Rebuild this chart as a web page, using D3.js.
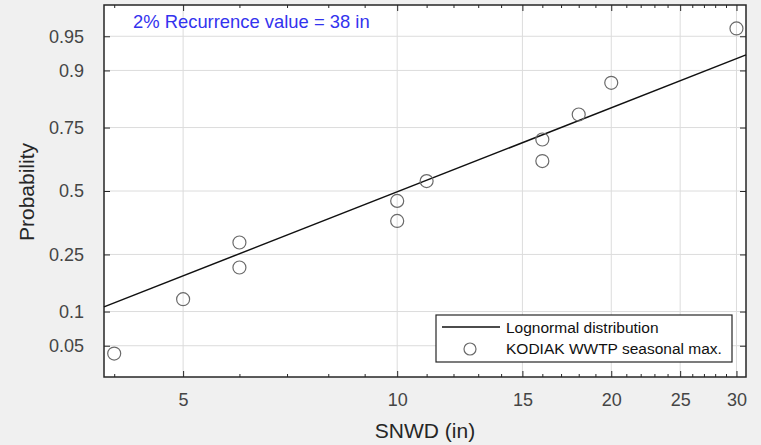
<!DOCTYPE html>
<html>
<head>
<meta charset="utf-8">
<script src="https://cdn.jsdelivr.net/npm/d3@7"></script>
<style>
  html, body { margin: 0; padding: 0; background: #f0f0f0; }
  svg { display: block; }
  text { font-family: "Liberation Sans", Arial, Helvetica, sans-serif; }
</style>
</head>
<body>
<svg id="chart" width="761" height="445"></svg>
<script>
// ---- data ----
const snwd = [4, 5, 6, 6, 10, 10, 11, 16, 16, 18, 20, 30];
const prob = [0.042, 0.125, 0.208, 0.292, 0.375, 0.458, 0.542, 0.625, 0.708, 0.792, 0.875, 0.958];
const fitX = [3.87, 30.94];
const fitP = [0.109, 0.926];
const xTicks = [5, 10, 15, 20, 25, 30];
const xTickLabels = ["5", "10", "15", "20", "25", "30"];
const xMinorTicks = [4,6,7,8,9,11,12,13,14,16,17,18,19,21,22,23,24,26,27,28,29];
const yTicks = [0.05, 0.1, 0.25, 0.5, 0.75, 0.9, 0.95];
const yTickLabels = ["0.05", "0.1", "0.25", "0.5", "0.75", "0.9", "0.95"];
const xDomain = [3.87, 30.94];
const yDomain = [0.024, 0.976];
const annotation = "2% Recurrence value = 38 in";
const legendLabels = ["Lognormal distribution", "KODIAK WWTP seasonal max."];

// inverse standard normal CDF (Acklam)
function probit(p) {
  const a = [-3.969683028665376e+01, 2.209460984245205e+02, -2.759285104469687e+02, 1.383577518672690e+02, -3.066479806614716e+01, 2.506628277459239e+00];
  const b = [-5.447609879822406e+01, 1.615858368580409e+02, -1.556989798598866e+02, 6.680131188771972e+01, -1.328068155288572e+01];
  const c = [-7.784894002430293e-03, -3.223964580411365e-01, -2.400758277161838e+00, -2.549732539343734e+00, 4.374664141464968e+00, 2.938163982698783e+00];
  const d = [7.784695709041462e-03, 3.224671290700398e-01, 2.445134137142996e+00, 3.754408661907416e+00];
  const pl = 0.02425, ph = 1 - pl;
  let q, r;
  if (p < pl) {
    q = Math.sqrt(-2 * Math.log(p));
    return (((((c[0]*q+c[1])*q+c[2])*q+c[3])*q+c[4])*q+c[5]) / ((((d[0]*q+d[1])*q+d[2])*q+d[3])*q+1);
  } else if (p <= ph) {
    q = p - 0.5; r = q * q;
    return (((((a[0]*r+a[1])*r+a[2])*r+a[3])*r+a[4])*r+a[5])*q / (((((b[0]*r+b[1])*r+b[2])*r+b[3])*r+b[4])*r+1);
  } else {
    q = Math.sqrt(-2 * Math.log(1 - p));
    return -(((((c[0]*q+c[1])*q+c[2])*q+c[3])*q+c[4])*q+c[5]) / ((((d[0]*q+d[1])*q+d[2])*q+d[3])*q+1);
  }
}

// ---- layout ----
const L = 104, R = 746, T = 5, B = 377;
const svg = d3.select("#chart");

const x = d3.scaleLog().domain(xDomain).range([L, R]);
const yz = d3.scaleLinear().domain(yDomain.map(probit)).range([B, T]);
const y = p => yz(probit(p));

// plot background
svg.append("rect").attr("x", L).attr("y", T).attr("width", R - L).attr("height", B - T)
  .attr("fill", "#ffffff");

// grid
const grid = svg.append("g").attr("stroke", "#dcdcdc").attr("stroke-width", 1);
grid.selectAll("line.vx").data(xTicks).join("line")
  .attr("x1", d => x(d)).attr("x2", d => x(d)).attr("y1", T).attr("y2", B);
grid.selectAll("line.hy").data(yTicks).join("line")
  .attr("x1", L).attr("x2", R).attr("y1", d => y(d)).attr("y2", d => y(d));

// axes
const tickFont = "18px";
const tickColor = "#454545";

const xAxisB = d3.axisBottom(x).tickValues(xTicks).tickFormat((d, i) => xTickLabels[i])
  .tickSizeInner(-6).tickSizeOuter(0).tickPadding(16);
const gxb = svg.append("g").attr("transform", `translate(0,${B})`).call(xAxisB);
const xAxisBm = d3.axisBottom(x).tickValues(xMinorTicks).tickFormat("").tickSizeInner(-3).tickSizeOuter(0);
svg.append("g").attr("transform", `translate(0,${B})`).call(xAxisBm).select(".domain").remove();

const xAxisT = d3.axisTop(x).tickValues(xTicks).tickFormat("").tickSizeInner(-6).tickSizeOuter(0);
svg.append("g").attr("transform", `translate(0,${T})`).call(xAxisT).select(".domain").remove();
const xAxisTm = d3.axisTop(x).tickValues(xMinorTicks).tickFormat("").tickSizeInner(-3).tickSizeOuter(0);
svg.append("g").attr("transform", `translate(0,${T})`).call(xAxisTm).select(".domain").remove();

const yAxisL = d3.axisLeft(yz).tickValues(yTicks.map(probit)).tickFormat((d, i) => yTickLabels[i])
  .tickSizeInner(-6).tickSizeOuter(0).tickPadding(20);
const gyl = svg.append("g").attr("transform", `translate(${L},0)`).call(yAxisL);
const yAxisR = d3.axisRight(yz).tickValues(yTicks.map(probit)).tickFormat("")
  .tickSizeInner(-6).tickSizeOuter(0);
svg.append("g").attr("transform", `translate(${R},0)`).call(yAxisR).select(".domain").remove();

svg.selectAll(".tick text").attr("font-size", tickFont).attr("fill", tickColor)
  .attr("font-family", "'Liberation Sans', Arial, sans-serif");
svg.selectAll(".tick line").attr("stroke", "#262626");
gxb.select(".domain").remove();
gyl.select(".domain").remove();

// box
svg.append("rect").attr("x", L).attr("y", T).attr("width", R - L).attr("height", B - T)
  .attr("fill", "none").attr("stroke", "#262626").attr("stroke-width", 1.5);

// fitted line
const fit = fitX.map((v, i) => [v, fitP[i]]);
svg.append("path").datum(fit)
  .attr("d", d3.line().x(d => x(d[0])).y(d => y(d[1])))
  .attr("fill", "none").attr("stroke", "#111").attr("stroke-width", 1.5);

// points
svg.append("g").selectAll("circle").data(snwd.map((v, i) => [v, prob[i]])).join("circle")
  .attr("cx", d => x(d[0])).attr("cy", d => y(d[1])).attr("r", 6.5)
  .attr("fill", "none").attr("stroke", "#6a6a6a").attr("stroke-width", 1.2);

// annotation
svg.append("text").attr("x", 133).attr("y", 28).attr("font-size", "18.4px")
  .attr("fill", "#3333ee").text(annotation);

// axis titles
svg.append("text").attr("x", (L + R) / 2).attr("y", 438).attr("text-anchor", "middle")
  .attr("font-size", "21px").attr("fill", "#262626").text("SNWD (in)");
svg.append("text").attr("transform", `translate(34,${(T + B) / 2 + 1}) rotate(-90)`)
  .attr("text-anchor", "middle").attr("font-size", "21px").attr("fill", "#262626").text("Probability");

// legend
const lg = svg.append("g");
lg.append("rect").attr("x", 436).attr("y", 315).attr("width", 296).attr("height", 47)
  .attr("fill", "#ffffff").attr("stroke", "#262626").attr("stroke-width", 1.2);
lg.append("line").attr("x1", 442).attr("x2", 500).attr("y1", 327).attr("y2", 327)
  .attr("stroke", "#111").attr("stroke-width", 1.5);
lg.append("circle").attr("cx", 470).attr("cy", 349).attr("r", 6)
  .attr("fill", "none").attr("stroke", "#6a6a6a").attr("stroke-width", 1.2);
lg.selectAll("text").data(legendLabels).join("text")
  .attr("x", 506).attr("y", (d, i) => 333 + i * 21)
  .attr("font-size", "15.5px").attr("fill", "#111").text(d => d);
</script>
</body>
</html>
